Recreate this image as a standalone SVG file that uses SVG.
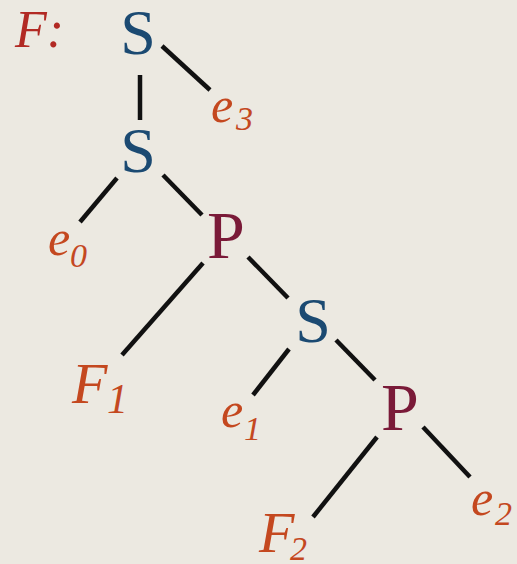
<svg xmlns="http://www.w3.org/2000/svg" width="517" height="564" viewBox="0 0 517 564">
<style>
.bg{fill:#ece9e1}
.op{font-family:"Liberation Serif","Times New Roman",serif;text-anchor:middle}
.s{fill:#1b4a72;font-size:64px}
.p{fill:#7a1a38;font-size:68px}
.lab{font-family:"Liberation Serif","Times New Roman",serif;font-style:italic;fill:#c4481f}
.e{font-size:50px}
.sub{font-size:34px}
.f{font-size:58px}
.edge{stroke:#111;stroke-width:4.5;stroke-linecap:butt;fill:none}
</style>
<rect class="bg" x="0" y="0" width="517" height="564"/>
<g id="connectors">
<line class="edge" x1="162" y1="46" x2="210" y2="90"/>
<line class="edge" x1="140" y1="75" x2="140" y2="120"/>
<line class="edge" x1="117" y1="178" x2="80" y2="222"/>
<line class="edge" x1="163" y1="175" x2="202" y2="215"/>
<line class="edge" x1="203" y1="263" x2="122" y2="355"/>
<line class="edge" x1="248" y1="257" x2="288" y2="298"/>
<line class="edge" x1="289" y1="349" x2="253" y2="395"/>
<line class="edge" x1="336" y1="340" x2="375" y2="380"/>
<line class="edge" x1="377" y1="437" x2="313" y2="517"/>
<line class="edge" x1="423" y1="427" x2="470" y2="477"/>
</g>
<g id="label-F"><text class="lab" x="15" y="47" style="fill:#b22a24;font-size:52px">F:</text></g>
<g id="S-top"><text class="op s" x="138" y="54">S</text></g>
<g id="S-2"><text class="op s" x="138" y="172">S</text></g>
<g id="P-1"><text class="op p" x="226" y="258">P</text></g>
<g id="S-3"><text class="op s" x="313" y="342">S</text></g>
<g id="P-2"><text class="op p" x="400" y="430">P</text></g>
<g id="e3"><text class="lab e" x="211" y="122">e<tspan class="sub" x="236" y="130">3</tspan></text></g>
<g id="e0"><text class="lab e" x="48" y="255">e<tspan class="sub" x="70" y="267">0</tspan></text></g>
<g id="F1"><text class="lab f" x="72" y="403">F<tspan x="107" y="413" style="font-size:42px">1</tspan></text></g>
<g id="e1"><text class="lab e" x="221" y="427">e<tspan class="sub" x="244" y="440">1</tspan></text></g>
<g id="F2"><text class="lab f" x="259" y="552">F<tspan class="sub" x="290" y="560">2</tspan></text></g>
<g id="e2"><text class="lab e" x="471" y="515">e<tspan class="sub" x="495" y="525">2</tspan></text></g>
</svg>
